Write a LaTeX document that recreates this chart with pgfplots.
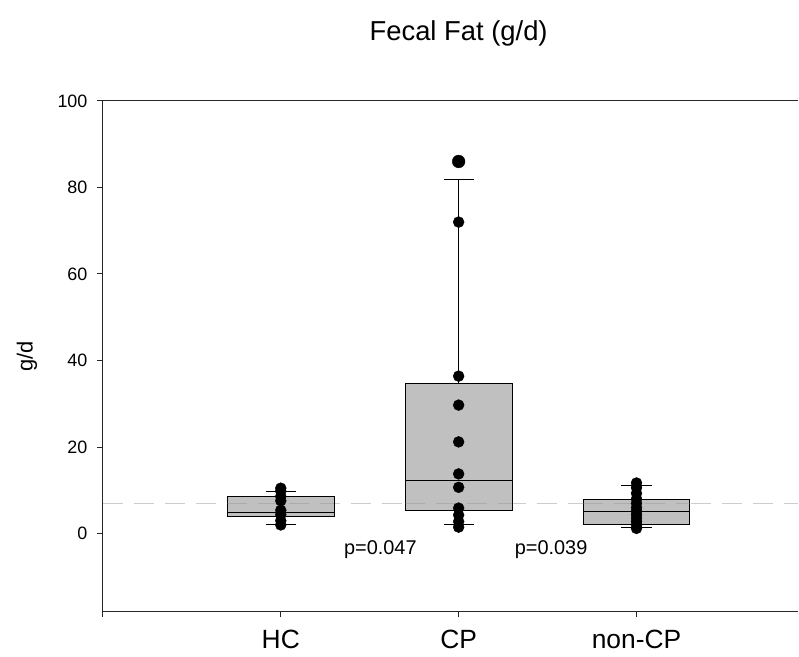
\documentclass[border=0pt]{standalone}
\usepackage{pgfplots}
\pgfplotsset{compat=1.18}
\usepgfplotslibrary{statistics}
\usepackage{fontspec}
\setmainfont{Liberation Sans}
\definecolor{boxgray}{RGB}{192,192,192}
\definecolor{dashgray}{RGB}{205,205,205}
\begin{document}
\begin{tikzpicture}
\begin{axis}[
  width=696bp, height=511bp, scale only axis,
  xmin=0, xmax=3.91, ymin=-18, ymax=100,
  axis x line*=box, axis y line*=left,
  xtick pos=bottom,
  tick align=outside,
  major tick length=6bp,
  axis line style={line width=1.1bp, black!85},
  every tick/.style={line width=1bp, black!85},
  xtick={0,1,2,3}, xticklabels={,HC,CP,non-CP},
  ytick={0,20,40,60,80,100},
  /pgf/number format/assume math mode=true,
  yticklabel style={font=\fontsize{18}{20}\selectfont, xshift=-6bp},
  xticklabel style={font=\fontsize{26.5}{30}\selectfont, yshift=-9bp},
  boxplot/draw direction=y,
  clip=false,
]
\coordinate (SW) at (rel axis cs:0,0);
\coordinate (NE) at (rel axis cs:1,1);
% reference line
\addplot[dashgray, line width=1.3bp, dash pattern=on 20bp off 11bp] coordinates {(0,7) (3.91,7)};
% boxes
\addplot[boxplot prepared={draw position=1, median=5.0, upper quartile=8.5, lower quartile=3.9, upper whisker=9.8, lower whisker=2.2, box extend=0.6, whisker extend=0.17}, fill=boxgray, draw=black, line width=0.9bp, solid, mark=none] coordinates {};
\addplot[boxplot prepared={draw position=2, median=12.2, upper quartile=34.8, lower quartile=5.3, upper whisker=81.8, lower whisker=2.2, box extend=0.6, whisker extend=0.17}, fill=boxgray, draw=black, line width=0.9bp, solid, mark=none] coordinates {};
\addplot[boxplot prepared={draw position=3, median=5.2, upper quartile=7.9, lower quartile=2.2, upper whisker=11.2, lower whisker=1.5, box extend=0.6, whisker extend=0.17}, fill=boxgray, draw=black, line width=0.9bp, solid, mark=none] coordinates {};
% dashed line again, faintly over the boxes
\addplot[gray, line width=1.3bp, dash pattern=on 20bp off 11bp, opacity=0.3] coordinates {(0.7,7) (1.3,7)};
\addplot[gray, line width=1.3bp, dash pattern=on 20bp off 11bp, opacity=0.3] coordinates {(1.7,7) (2.3,7)};
\addplot[gray, line width=1.3bp, dash pattern=on 20bp off 11bp, opacity=0.3] coordinates {(2.7,7) (3.3,7)};
% data points
\addplot[only marks, mark=*, mark size=5.5, black] coordinates {
 (1,10.5) (1,9.8) (1,8.6) (1,7.6) (1,5.4) (1,4.4) (1,3.0) (1,2.0)
};
\addplot[only marks, mark=*, mark size=5.5, black] coordinates {
 (2,72.0) (2,36.4) (2,29.7) (2,21.2) (2,13.8) (2,10.7) (2,5.9) (2,4.3) (2,2.8) (2,1.5)
};
\addplot[only marks, mark=*, mark size=6.4, black] coordinates {(2,86.0)};
\addplot[only marks, mark=*, mark size=5.5, black] coordinates {
 (3,11.7) (3,10.6) (3,9.3) (3,8.0) (3,7.0) (3,6.0) (3,5.2) (3,4.4) (3,3.6) (3,2.8) (3,2.0) (3,1.2)
};
\node[font=\fontsize{20}{23}\selectfont] at (axis cs:1.56,-3.6) {p=0.047};
\node[font=\fontsize{20}{23}\selectfont] at (axis cs:2.52,-3.6) {p=0.039};
\node[font=\fontsize{27.5}{31}\selectfont] at ([yshift=68bp]axis cs:2.0,100) {Fecal Fat (g/d)};
\node[font=\fontsize{22}{25}\selectfont, rotate=90] at ([xshift=-76bp]rel axis cs:0,0.5) {g/d};
\end{axis}
\path (SW) ++(-103bp,-45bp) rectangle ([yshift=101bp]NE);
\end{tikzpicture}
\end{document}
